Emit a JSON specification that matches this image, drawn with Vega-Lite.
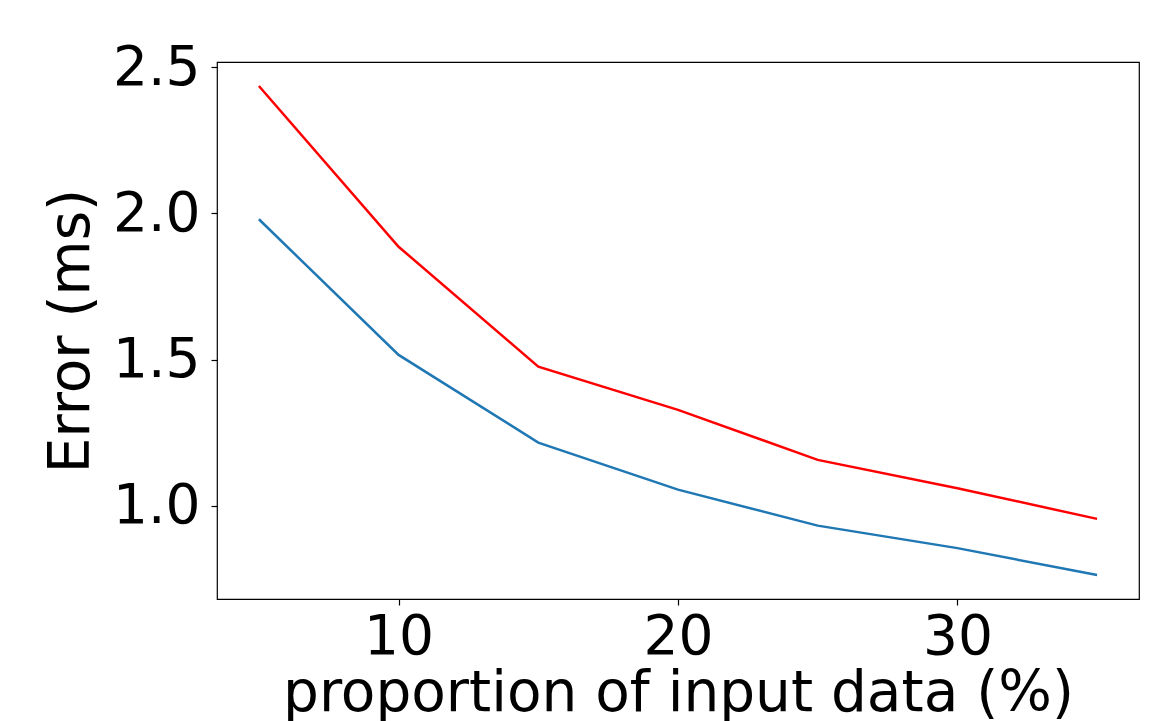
{
  "$schema": "https://vega.github.io/schema/vega-lite/v6.json",
  "autosize": {"type": "none"},
  "padding": {"left": 217, "top": 62, "right": 23, "bottom": 122},
  "width": 922,
  "height": 537,
  "background": "white",
  "config": {
    "view": {"stroke": "#000000", "strokeWidth": 1.2},
    "font": "DejaVu Sans"
  },
  "data": {
    "values": [
      {"p": 5, "error": 2.436, "series": "a"},
      {"p": 10, "error": 1.886, "series": "a"},
      {"p": 15, "error": 1.476, "series": "a"},
      {"p": 20, "error": 1.328, "series": "a"},
      {"p": 25, "error": 1.157, "series": "a"},
      {"p": 30, "error": 1.060, "series": "a"},
      {"p": 35, "error": 0.955, "series": "a"},
      {"p": 5, "error": 1.980, "series": "b"},
      {"p": 10, "error": 1.516, "series": "b"},
      {"p": 15, "error": 1.216, "series": "b"},
      {"p": 20, "error": 1.055, "series": "b"},
      {"p": 25, "error": 0.932, "series": "b"},
      {"p": 30, "error": 0.855, "series": "b"},
      {"p": 35, "error": 0.763, "series": "b"}
    ]
  },
  "mark": {"type": "line", "strokeWidth": 2.5, "clip": true},
  "encoding": {
    "x": {
      "field": "p",
      "type": "quantitative",
      "scale": {"domain": [3.5, 36.5], "nice": false, "zero": false},
      "axis": {
        "title": "proportion of input data (%)",
        "values": [10, 20, 30],
        "grid": false,
        "domain": false,
        "ticks": true,
        "tickSize": 6,
        "tickWidth": 1.2,
        "tickColor": "#000000",
        "labelFontSize": 55,
        "labelColor": "#000000",
        "labelPadding": 5,
        "labelFont": "DejaVu Sans",
        "titleFont": "DejaVu Sans",
        "titleFontSize": 56.5,
        "titleFontWeight": "normal",
        "titleColor": "#000000",
        "titlePadding": 1
      }
    },
    "y": {
      "field": "error",
      "type": "quantitative",
      "scale": {"domain": [0.681, 2.518], "nice": false, "zero": false},
      "axis": {
        "title": "Error (ms)",
        "values": [1.0, 1.5, 2.0, 2.5],
        "format": ".1f",
        "grid": false,
        "domain": false,
        "ticks": true,
        "tickSize": 6,
        "tickWidth": 1.2,
        "tickColor": "#000000",
        "labelFontSize": 55,
        "labelColor": "#000000",
        "labelPadding": 11,
        "labelFont": "DejaVu Sans",
        "titleFont": "DejaVu Sans",
        "titleFontSize": 56.5,
        "titleFontWeight": "normal",
        "titleColor": "#000000",
        "titlePadding": 12
      }
    },
    "color": {
      "field": "series",
      "type": "nominal",
      "scale": {"domain": ["a", "b"], "range": ["#ff0000", "#1f77b4"]},
      "legend": null
    }
  }
}
